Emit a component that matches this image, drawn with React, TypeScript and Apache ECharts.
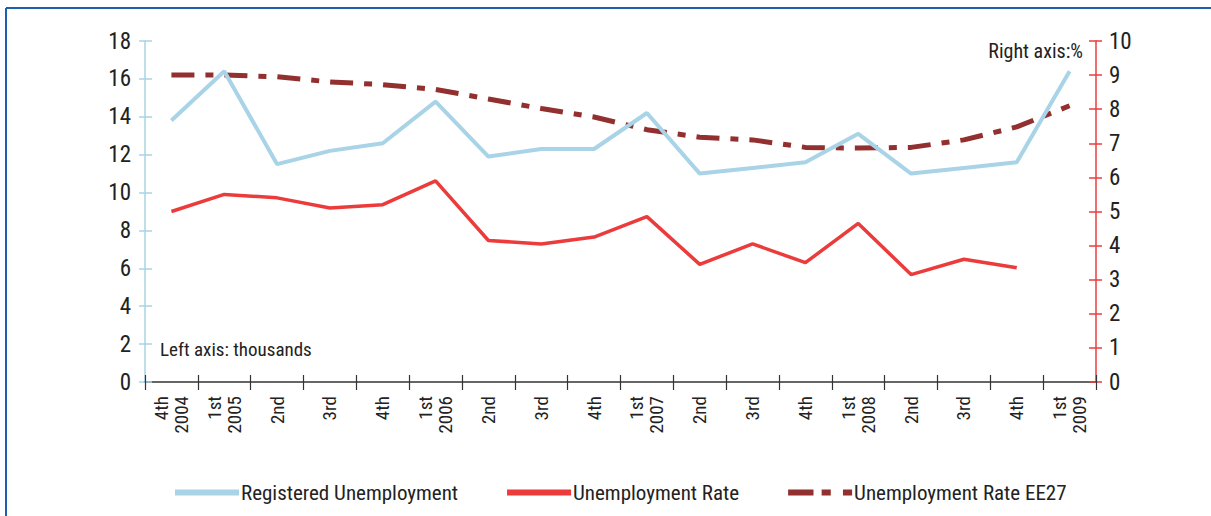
import React, { useEffect, useRef } from "react";
import * as echarts from "echarts";

const categories = [
  "4th\n2004", "1st\n2005", "2nd", "3rd", "4th", "1st\n2006", "2nd", "3rd", "4th",
  "1st\n2007", "2nd", "3rd", "4th", "1st\n2008", "2nd", "3rd", "4th", "1st\n2009",
];
const registeredUnemployment = [13.8, 16.4, 11.5, 12.2, 12.6, 14.8, 11.9, 12.3, 12.3, 14.2, 11.0, 11.3, 11.6, 13.1, 11.0, 11.3, 11.6, 16.4];
const unemploymentRate = [5.0, 5.5, 5.4, 5.1, 5.2, 5.9, 4.15, 4.05, 4.25, 4.85, 3.45, 4.05, 3.5, 4.65, 3.15, 3.6, 3.35, null];
const unemploymentRateEE27 = [9.0, 9.0, 8.95, 8.8, 8.72, 8.58, 8.3, 8.02, 7.77, 7.4, 7.18, 7.1, 6.88, 6.86, 6.88, 7.1, 7.48, 8.1];
const seriesNames = ["Registered Unemployment", "Unemployment Rate", "Unemployment Rate EE27"];
const leftTicks = { min: 0, max: 18, interval: 2 };
const rightTicks = { min: 0, max: 10, interval: 1 };

const FONT = "'Liberation Sans Narrow', 'Arial Narrow', 'Roboto Condensed', 'Liberation Sans', sans-serif";
const TEXT = "#222222";
const BLUE = "#a9d3e6";
const RED = "#ec3b3b";
const DARKRED = "#922f2f";
const DASH_ICON = "path://M0,0h25v6h-25z M33,0h9v6h-9z M54,0h9v6h-9z";

export default function App() {
  const ref = useRef<HTMLDivElement>(null);
  useEffect(() => {
    const chart = echarts.init(ref.current!, null, { renderer: "svg" });
    chart.setOption({
      animation: false,
      backgroundColor: "#ffffff",
      grid: { left: 145, right: 115, top: 41, bottom: 134, containLabel: false },
      legend: {
        left: 170,
        top: 477,
        itemWidth: 64,
        itemHeight: 6,
        itemGap: 49,
        symbolKeepAspect: false,
        textStyle: { fontFamily: FONT, fontSize: 21, color: TEXT, padding: [0, 0, 0, -3] },
        data: [
          { name: seriesNames[0], icon: "rect", itemStyle: { color: BLUE } },
          { name: seriesNames[1], icon: "rect", itemStyle: { color: RED } },
          { name: seriesNames[2], icon: DASH_ICON, itemStyle: { color: DARKRED } },
        ],
      },
      xAxis: [
        {
          type: "category",
          data: categories,
          boundaryGap: true,
          axisLine: { show: true, lineStyle: { color: "#333333", width: 1.5 } },
          axisTick: { show: true, length: 8, interval: 0, lineStyle: { color: "#333333", width: 1.2 } },
          axisLabel: {
            interval: 0,
            rotate: 90,
            margin: 14,
            fontFamily: FONT,
            fontSize: 19,
            lineHeight: 20,
            color: TEXT,
          },
        },
        {
          type: "category",
          data: categories,
          position: "bottom",
          boundaryGap: true,
          axisLine: { show: false },
          axisTick: { show: true, inside: true, length: 7, interval: 0, lineStyle: { color: "#333333", width: 1.2 } },
          axisLabel: { show: false },
        },
      ],
      yAxis: [
        {
          type: "value",
          position: "left",
          ...leftTicks,
          splitLine: { show: false },
          axisLine: { show: true, lineStyle: { color: BLUE, width: 1.5 } },
          axisTick: { show: true, length: 6, lineStyle: { color: BLUE, width: 1.5 } },
          axisLabel: { margin: 14, fontFamily: FONT, fontSize: 23, color: TEXT },
        },
        {
          type: "value",
          position: "right",
          ...rightTicks,
          splitLine: { show: false },
          axisLine: { show: true, lineStyle: { color: RED, width: 1.5 } },
          axisTick: { show: true, length: 6, lineStyle: { color: RED, width: 1.5 } },
          axisLabel: { margin: 13, fontFamily: FONT, fontSize: 23, color: TEXT },
        },
        {
          type: "value",
          position: "left",
          offset: 0,
          ...leftTicks,
          splitLine: { show: false },
          axisLine: { show: false },
          axisTick: { show: true, inside: true, length: 7, lineStyle: { color: BLUE, width: 1.5 } },
          axisLabel: { show: false },
        },
        {
          type: "value",
          position: "right",
          offset: 0,
          ...rightTicks,
          splitLine: { show: false },
          axisLine: { show: false },
          axisTick: { show: true, inside: true, length: 7, lineStyle: { color: RED, width: 1.5 } },
          axisLabel: { show: false },
        },
      ],
      graphic: [
        { type: "line", shape: { x1: 6, y1: 8, x2: 1211, y2: 8 }, style: { stroke: "#1f5fae", lineWidth: 2 } },
        { type: "line", shape: { x1: 6, y1: 8, x2: 6, y2: 516 }, style: { stroke: "#1f5fae", lineWidth: 2 } },
        {
          type: "text",
          left: 160,
          top: 340,
          style: { text: "Left axis: thousands", fontFamily: FONT, fontSize: 19, fill: TEXT },
        },
        {
          type: "text",
          right: 128,
          top: 41,
          style: { text: "Right axis:%", fontFamily: FONT, fontSize: 20, fill: TEXT },
        },
      ],
      series: [
        {
          name: seriesNames[0],
          type: "line",
          xAxisIndex: 0,
          yAxisIndex: 0,
          data: registeredUnemployment,
          symbol: "none",
          lineStyle: { color: BLUE, width: 4 },
          itemStyle: { color: BLUE },
          z: 3,
        },
        {
          name: seriesNames[1],
          type: "line",
          xAxisIndex: 0,
          yAxisIndex: 1,
          data: unemploymentRate,
          symbol: "none",
          lineStyle: { color: RED, width: 3.5 },
          itemStyle: { color: RED },
          z: 4,
        },
        {
          name: seriesNames[2],
          type: "line",
          xAxisIndex: 0,
          yAxisIndex: 1,
          data: unemploymentRateEE27,
          symbol: "none",
          lineStyle: { color: DARKRED, width: 5, type: [23, 11, 8, 11] },
          itemStyle: { color: DARKRED },
          z: 2,
        },
      ],
    });
    return () => chart.dispose();
  }, []);
  return (
    <div
      ref={ref}
      style={{ position: "fixed", left: 0, top: 0, width: 1211, height: 516, background: "#fff" }}
    />
  );
}
